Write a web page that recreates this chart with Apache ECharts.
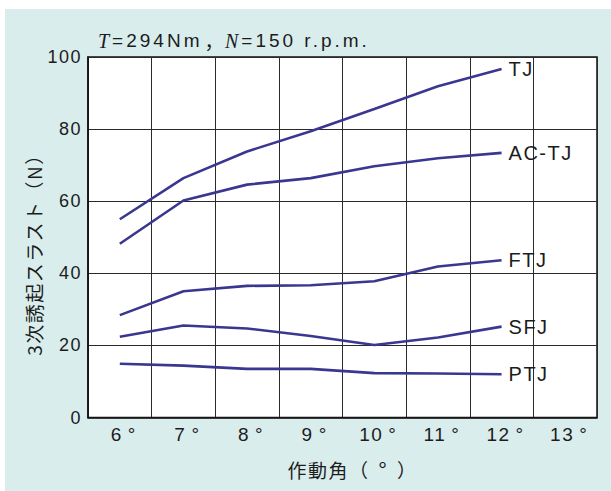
<!DOCTYPE html>
<html>
<head>
<meta charset="utf-8">
<script src="https://cdn.jsdelivr.net/npm/echarts@6/dist/echarts.min.js"></script>
<style>
  html, body { margin: 0; padding: 0; background: #ffffff; }
  #bg { position: absolute; left: 5px; top: 9px; width: 606px; height: 482px; background: #daeded; }
  #chart { position: absolute; left: 0; top: 0; width: 611px; height: 491px; }
  #chart svg text { letter-spacing: 1.5px; }
  #chart svg text[style*="400"] { letter-spacing: 3px; }
</style>
</head>
<body>
<div id="bg"></div>
<div id="chart"></div>
<script>
// Data
const categories = ['6°', '7°', '8°', '9°', '10°', '11°', '12°', '13°'];
const yTicks = [0, 20, 40, 60, 80, 100];
const seriesNames = ['TJ', 'AC-TJ', 'FTJ', 'SFJ', 'PTJ'];
const TJ    = [55.0, 66.4, 73.8, 79.4, 85.6, 91.9, 96.7];
const AC_TJ = [48.2, 60.2, 64.6, 66.4, 69.7, 71.9, 73.4];
const FTJ   = [28.4, 35.0, 36.5, 36.7, 37.8, 41.9, 43.6];
const SFJ   = [22.4, 25.5, 24.7, 22.6, 20.1, 22.2, 25.2];
const PTJ   = [14.9, 14.4, 13.5, 13.5, 12.3, 12.2, 12.0];
const seriesValues = [TJ, AC_TJ, FTJ, SFJ, PTJ];

const lineColor = '#3a3790';
const textColor = '#1c1c1c';
const latin = '"Liberation Sans", Arial, sans-serif';
const cjkName = '"Noto Sans CJK JP", sans-serif';
const serif = '"Liberation Serif", "Times New Roman", serif';

// Make ECharts' text measurement aware of the letter spacing applied by CSS
const mctx = document.createElement('canvas').getContext('2d');
echarts.setPlatformAPI({
  measureText: function (text, font) {
    mctx.font = font || '12px sans-serif';
    const ls = (font && font.indexOf('400') >= 0) ? 3 : 1.5;
    mctx.letterSpacing = ls + 'px';
    return mctx.measureText(text);
  }
});

const chart = echarts.init(document.getElementById('chart'), null, { renderer: 'svg' });

chart.setOption({
  backgroundColor: 'transparent',
  animation: false,
  title: {
    text: '{i|T}{s|=294Nm}{c|，}{i|N}{s|=150 r.p.m.}',
    left: 93,
    top: 24,
    textStyle: {
      fontFamily: latin,
      fontSize: 19,
      fontWeight: 400,
      color: textColor,
      rich: {
        i: { fontFamily: serif, fontStyle: 'italic', fontWeight: 400, fontSize: 20, color: textColor },
        s: { fontFamily: latin, fontWeight: 400, fontSize: 19, color: textColor },
        c: { fontFamily: cjkName, fontWeight: 'normal', fontSize: 19, color: textColor, padding: [0, 0, 0, 2] }
      }
    }
  },
  grid: {
    left: 88, right: 14, top: 57, bottom: 73.5,
    show: true, backgroundColor: '#ffffff', borderColor: '#111111', borderWidth: 1.5
  },
  xAxis: {
    type: 'category',
    data: categories,
    boundaryGap: true,
    name: '{a|作動角}{p|（}{d|°}{p|）}',
    nameLocation: 'middle',
    nameGap: 40,
    nameTextStyle: {
      fontFamily: cjkName, fontSize: 19, color: textColor,
      padding: [0, 0, 0, 20],
      rich: {
        a: { fontFamily: cjkName, fontSize: 19, color: textColor },
        p: { fontFamily: cjkName, fontSize: 19, color: textColor },
        d: { fontFamily: cjkName, fontSize: 22, color: textColor, padding: [0, 9, 0, 9] }
      }
    },
    axisLine: { show: true, lineStyle: { color: '#111111', width: 1.5 } },
    axisTick: { show: false },
    axisLabel: {
      interval: 0, fontFamily: latin, fontSize: 19, color: textColor, margin: 7,
      padding: [0, 0, 0, 8],
      formatter: function (v) { return '{n|' + v.replace('°', '') + '}{d|°}'; },
      rich: {
        n: { fontFamily: latin, fontSize: 19, color: textColor },
        d: { fontFamily: latin, fontSize: 19, color: textColor, padding: [0, 0, 0, 5] }
      }
    },
    splitLine: { show: true, interval: 0, lineStyle: { color: '#2a2a2a', width: 1 } }
  },
  yAxis: {
    type: 'value',
    min: 0, max: 100, interval: 20,
    axisLine: { show: true, lineStyle: { color: '#111111', width: 1.5 } },
    axisTick: { show: false },
    axisLabel: { fontFamily: latin, fontSize: 18, color: textColor, margin: 6,
      formatter: function (v) { return yTicks.indexOf(v) >= 0 ? String(v) : ''; } },
    splitLine: { show: true, lineStyle: { color: '#2a2a2a', width: 1 } }
  },
  graphic: [{
    type: 'text',
    x: 33, y: 250,
    rotation: Math.PI / 2,
    style: {
      text: '3次誘起スラスト（N）',
      fontFamily: cjkName,
      fontSize: 19,
      fill: textColor,
      align: 'center',
      verticalAlign: 'middle'
    }
  }],
  series: seriesNames.map(function (name, i) {
    return {
      name: name,
      type: 'line',
      data: seriesValues[i],
      symbol: 'none',
      lineStyle: { color: lineColor, width: 2.6 },
      itemStyle: { color: lineColor },
      endLabel: {
        show: true,
        formatter: '{a}',
        distance: 7,
        fontFamily: latin,
        fontSize: 20,
        color: textColor
      }
    };
  })
});
</script>
</body>
</html>
